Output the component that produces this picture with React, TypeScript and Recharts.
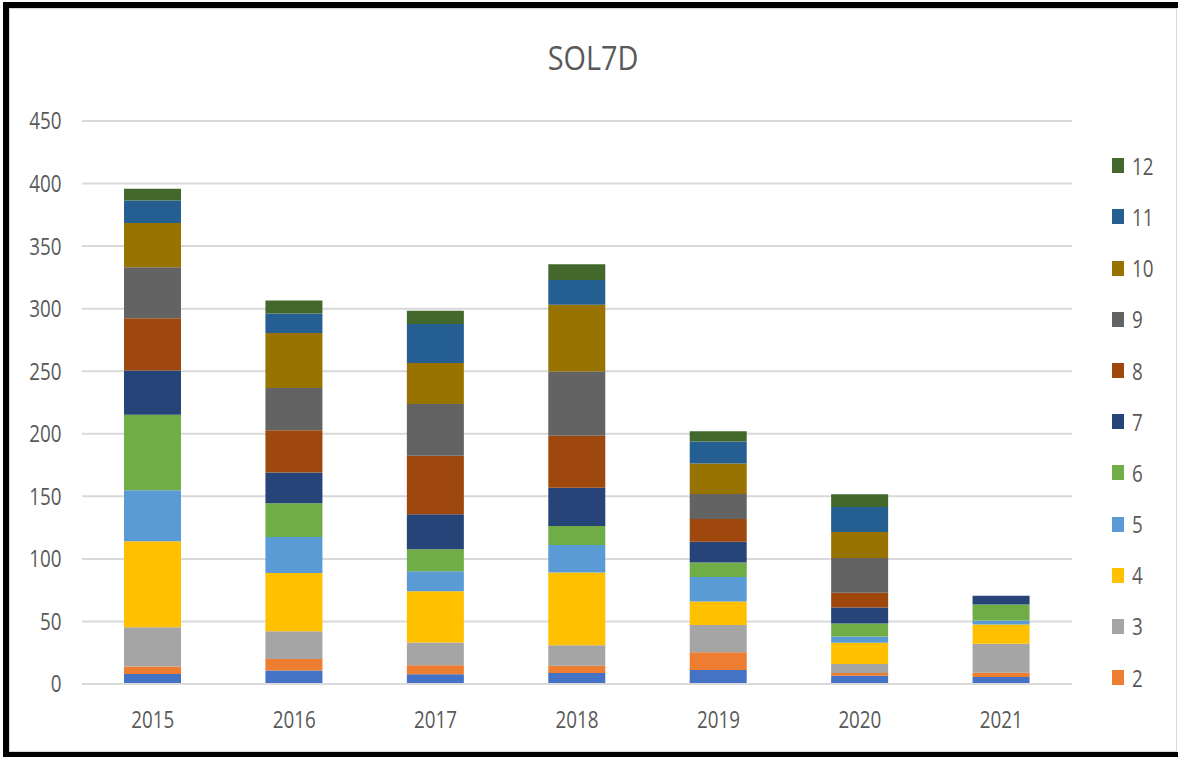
import React from "react";
import { BarChart, Bar, XAxis, YAxis, CartesianGrid, Legend } from "recharts";

const categories = ["2015", "2016", "2017", "2018", "2019", "2020", "2021"];
const seriesNames = ["1", "2", "3", "4", "5", "6", "7", "8", "9", "10", "11", "12"];
const s1 = [8.0, 10.7, 7.7, 8.8, 11.2, 6.6, 5.6];
const s2 = [5.9, 9.3, 7.2, 5.8, 14.1, 2.2, 3.4];
const s3 = [31.4, 22.1, 18.3, 16.3, 21.8, 7.2, 23.2];
const s4 = [68.8, 46.6, 41.0, 58.2, 18.9, 17.0, 15.4];
const s5 = [40.7, 28.8, 16.0, 22.1, 19.6, 5.0, 3.2];
const s6 = [60.5, 26.9, 17.5, 15.1, 11.5, 10.4, 12.8];
const s7 = [35.2, 24.6, 27.9, 30.6, 16.5, 12.8, 6.9];
const s8 = [41.9, 33.8, 46.8, 41.5, 18.3, 11.7, 0];
const s9 = [40.8, 33.8, 41.5, 51.3, 20.0, 27.9, 0];
const s10 = [35.2, 44.0, 32.7, 53.5, 24.4, 20.7, 0];
const s11 = [18.1, 15.5, 31.2, 19.7, 17.6, 20.0, 0];
const s12 = [9.3, 10.4, 10.6, 12.7, 8.2, 10.1, 0];
const seriesValues = [s1, s2, s3, s4, s5, s6, s7, s8, s9, s10, s11, s12];
const yTicks = [0, 50, 100, 150, 200, 250, 300, 350, 400, 450];
const title = "SOL7D";

const colors = [
  "#4472C4", "#ED7D31", "#A5A5A5", "#FFC000", "#5B9BD5", "#70AD47",
  "#264478", "#9E480E", "#636363", "#997300", "#255E91", "#43682B",
];

const data = categories.map((c, i) => {
  const row: any = { name: c };
  seriesValues.forEach((arr, k) => {
    row["s" + (k + 1)] = arr[i];
  });
  return row;
});

const W = 1178;
const H = 757;
const PLOT_TOP = 121;
const PLOT_BOTTOM = 684;
const PLOT_LEFT = 82;
const RIGHT_MARGIN = 106;
const FONT = "'Open Sans', 'Liberation Sans', sans-serif";
const TXT = "#595959";
const TICK_FS = 23.5;
const TICK_SX = 0.8;

const XTick = (props: any) => {
  const { x, payload } = props;
  const yb = PLOT_BOTTOM + 35.5 + 0.357 * TICK_FS;
  return (
    <text
      x={0}
      y={0}
      transform={`translate(${x},${yb}) scale(${TICK_SX},1)`}
      textAnchor="middle"
      fill={TXT}
      fontSize={TICK_FS}
      fontFamily={FONT}
    >
      {payload.value}
    </text>
  );
};

const YTick = (props: any) => {
  const { y, payload } = props;
  const yb = y + 0.357 * TICK_FS;
  return (
    <text
      x={0}
      y={0}
      transform={`translate(${PLOT_LEFT - 20.5},${yb}) scale(${TICK_SX},1)`}
      textAnchor="end"
      fill={TXT}
      fontSize={TICK_FS}
      fontFamily={FONT}
    >
      {payload.value}
    </text>
  );
};

const renderLegend = (props: any) => {
  const payload = (props.payload || [])
    .filter((p: any) => p.value !== "1")
    .slice()
    .sort((a: any, b: any) => Number(b.value) - Number(a.value));
  return (
    <div style={{ display: "flex", flexDirection: "column" }}>
      {payload.map((p: any) => (
        <div
          key={p.value}
          style={{ height: 51.2, display: "flex", alignItems: "center", position: "relative" }}
        >
          <div style={{ width: 12, height: 15, background: p.color, marginLeft: 7 }} />
          <span
            style={{
              marginLeft: 8,
              fontFamily: FONT,
              fontSize: TICK_FS,
              color: TXT,
              display: "inline-block",
              transform: `scaleX(${TICK_SX})`,
              transformOrigin: "left center",
              lineHeight: "normal",
              whiteSpace: "nowrap",
            }}
          >
            {p.value}
          </span>
        </div>
      ))}
    </div>
  );
};

export default function App() {
  return (
    <div
      style={{
        position: "fixed",
        left: 0,
        top: 0,
        width: W,
        height: H,
        overflow: "hidden",
        background: "#ffffff",
      }}
    >
      <div
        style={{
          position: "absolute",
          left: 3,
          top: 2,
          width: 1220,
          height: 755,
          boxSizing: "border-box",
          borderTop: "6px solid #000",
          borderLeft: "6px solid #000",
          borderBottom: "5px solid #000",
        }}
      />
      <div
        style={{
          position: "absolute",
          left: 9,
          top: 8,
          width: 1168,
          height: 744,
          boxSizing: "border-box",
          border: "1px solid #d9d9d9",
        }}
      />
      <div
        style={{
          position: "absolute",
          left: 592.5,
          top: 57,
          transform: `translate(-50%,-50%) scaleX(0.86)`,
          fontFamily: FONT,
          fontSize: 33.5,
          color: TXT,
          whiteSpace: "nowrap",
          lineHeight: "normal",
        }}
      >
        {title}
      </div>
      <div style={{ position: "absolute", left: 0, top: 0 }}>
        <BarChart
          width={W}
          height={H}
          data={data}
          margin={{ top: PLOT_TOP, right: RIGHT_MARGIN, left: 0, bottom: 0 }}
        >
          <CartesianGrid vertical={false} stroke="#d9d9d9" strokeWidth={2} />
          <XAxis
            dataKey="name"
            height={H - PLOT_BOTTOM}
            axisLine={{ stroke: "#d9d9d9", strokeWidth: 2 }}
            tickLine={false}
            tick={<XTick />}
            interval={0}
          />
          <YAxis
            width={PLOT_LEFT}
            domain={[0, 450]}
            ticks={yTicks}
            axisLine={false}
            tickLine={false}
            tick={<YTick />}
            interval={0}
          />
          <Legend
            layout="vertical"
            align="center"
            verticalAlign="middle"
            content={renderLegend}
            wrapperStyle={{ position: "absolute", left: 1105, top: 140.2, width: 73, height: 563 }}
          />
          {seriesNames.map((n, k) => (
            <Bar
              key={n}
              dataKey={"s" + (k + 1)}
              name={n}
              stackId="a"
              fill={colors[k]}
              barSize={57}
              isAnimationActive={false}
            />
          ))}
        </BarChart>
      </div>
    </div>
  );
}
